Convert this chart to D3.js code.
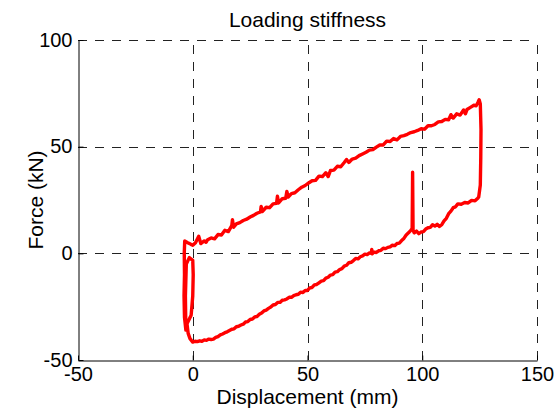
<!DOCTYPE html>
<html>
<head>
<meta charset="utf-8">
<script src="https://cdn.jsdelivr.net/npm/d3@7/dist/d3.min.js"></script>
<style>
  html, body { margin: 0; padding: 0; background: #fff; }
  svg { display: block; }
  text { font-family: "Liberation Sans", Arial, Helvetica, sans-serif; fill: #000; }
</style>
</head>
<body>
<svg id="chart" width="557" height="418"></svg>
<script>
// Axis ticks
const xTicks = [-50, 0, 50, 100, 150];
const yTicks = [-50, 0, 50, 100];

// Force-displacement record, split into its segments [displacement mm, force kN]
// Left end: actuator reversal around -3 mm
const leftStart = [
  [-3.0, -36], [-3.6, -30], [-3.8, -20], [-3.6, -10], [-3.7, 0], [-3.5, 5.8],
  [-2.2, 5.0], [-0.8, 4.2]
];

// Loading branch (upper)
const upperBranch = [
  [0.0, 3.8], [1.2, 5.0], [2.6, 8.0], [3.5, 4.6], [5.0, 5.8], [5.8, 5.2], [6.5, 6.4], [8.0, 7.2],
  [9.5, 6.8], [11.0, 8.8], [12.5, 8.6], [14.0, 10.8], [15.5, 10.2], [17.0, 13.0],
  [17.3, 15.8], [17.8, 12.2], [19.0, 13.8], [20.5, 14.4], [22.0, 15.4], [23.5, 16.0],
  [25.0, 17.0], [26.5, 17.8], [28.0, 18.8], [29.5, 19.4], [29.8, 22.0], [30.3, 19.6],
  [32.0, 21.6], [33.5, 21.4], [35.0, 23.2], [36.5, 23.4], [36.9, 26.8], [37.4, 23.6],
  [39.0, 25.6], [40.5, 25.8], [41.0, 29.0], [41.6, 26.4], [43.0, 28.0], [44.5, 28.4],
  [46.0, 29.8], [47.5, 31.0], [49.0, 31.8], [50.5, 33.0], [52.0, 34.0], [53.5, 34.2],
  [55.0, 36.2], [56.5, 36.0], [58.0, 37.8], [59.0, 36.0], [60.0, 38.8], [61.5, 39.0],
  [63.0, 40.8], [64.5, 40.6], [66.0, 42.6], [67.0, 44.0], [68.0, 42.6], [69.5, 44.2],
  [71.0, 44.6], [72.5, 45.8], [74.0, 46.6], [75.5, 47.4], [77.0, 48.4], [78.5, 48.6],
  [80.0, 49.8], [81.5, 50.8], [83.0, 50.8], [84.5, 52.6], [86.0, 52.4], [87.5, 53.8],
  [89.0, 53.2], [90.5, 54.8], [92.0, 55.2], [93.5, 55.8], [95.0, 56.6], [96.5, 57.0],
  [98.0, 57.6], [99.5, 58.4], [101.0, 58.2], [102.5, 59.8], [104.0, 59.8], [105.5, 60.4],
  [107.0, 61.6], [108.5, 61.8], [110.0, 62.8], [111.5, 62.6], [112.5, 65.0], [113.5, 63.4],
  [115.0, 65.4], [116.5, 64.8], [118.0, 67.2], [118.8, 65.4], [119.5, 67.4], [121.0, 68.4],
  [122.5, 69.4], [123.5, 69.2], [124.3, 70.8], [124.8, 72.0]
];

// Right end: unloading at peak displacement
const rightDrop = [
  [125.3, 70.0], [125.6, 58.0], [125.5, 45.0], [125.3, 32.0], [124.6, 26.4]
];

// Return branch (lower), from peak back to zero
const lowerBranch = [
  [124.2, 25.8], [123.0, 24.6], [121.5, 24.8], [120.0, 23.6], [118.5, 23.8], [117.0, 23.0],
  [115.5, 23.2], [114.5, 21.8], [113.5, 21.4], [112.5, 19.8], [111.5, 18.6], [110.5, 16.4],
  [109.5, 15.2], [108.5, 13.4], [107.5, 12.6], [106.5, 13.6], [105.5, 12.8], [104.5, 13.4],
  [103.5, 12.2], [102.5, 12.0], [101.5, 11.4], [100.5, 10.2], [99.5, 10.0], [98.5, 9.2],
  [97.5, 10.4], [96.5, 9.6], [96.0, 10.8], [95.8, 38.0], [95.6, 11.6], [95.0, 10.8],
  [94.0, 9.6], [93.0, 8.6], [92.0, 7.0], [91.0, 6.0], [90.0, 4.8], [89.0, 4.6], [88.0, 3.6],
  [87.0, 3.8], [86.0, 3.0], [85.0, 2.8], [84.0, 2.2], [83.0, 2.4], [82.0, 1.4], [81.0, 1.2],
  [80.0, 0.4], [79.0, 0.6], [78.2, -0.2], [78.0, 1.8], [77.8, 0.0], [77.0, 0.2], [76.0, -0.6],
  [75.0, -0.4], [74.0, -1.2], [73.0, -1.6], [72.0, -2.6], [71.0, -2.4], [70.0, -3.4],
  [69.0, -4.2], [68.0, -4.4], [67.0, -5.6], [66.0, -6.0], [65.0, -7.2], [64.0, -7.6],
  [63.0, -8.6], [62.0, -8.8], [61.0, -10.0], [60.0, -10.2], [59.0, -11.2], [58.0, -11.6],
  [57.0, -12.8], [56.0, -13.0], [55.0, -13.8], [54.0, -14.6], [53.0, -14.8], [52.0, -16.0],
  [51.0, -16.2], [50.0, -17.4], [49.0, -17.4], [48.0, -18.4], [47.0, -18.2], [46.0, -19.2],
  [45.0, -19.4], [44.0, -19.8], [43.0, -20.6], [42.0, -20.6], [41.0, -21.4], [40.0, -21.8],
  [39.0, -22.0], [38.0, -23.0], [37.0, -23.0], [36.0, -24.0], [35.0, -24.2], [34.0, -25.2],
  [33.0, -25.8], [32.0, -26.6], [31.0, -27.0], [30.0, -28.0], [29.0, -28.6], [28.0, -29.6],
  [27.0, -29.8], [26.0, -30.8], [25.0, -31.0], [24.0, -32.0], [23.0, -32.2], [22.0, -33.2],
  [21.0, -33.6], [20.0, -34.2], [19.0, -34.4], [18.0, -35.4], [17.0, -35.6], [16.0, -36.2],
  [15.0, -36.8], [14.0, -37.2], [13.0, -37.8], [12.0, -38.2], [11.0, -39.0], [10.0, -39.4],
  [9.0, -40.2], [8.0, -40.4], [7.0, -40.2], [6.0, -40.8], [5.0, -40.6], [4.0, -41.2],
  [3.0, -41.0], [2.0, -41.4], [1.0, -41.2], [0.0, -41.6]
];

// Left end again: reversal loop closing the cycle
const leftClose = [
  [-1.2, -40.0], [-2.0, -37.5], [-2.5, -33.0], [-0.7, -29.0], [0.0, -20.0], [0.2, -10.0],
  [0.0, -3.3], [-1.5, -2.0], [-2.8, -5.0], [-3.2, -20.0], [-3.0, -36.0]
];

const svg = d3.select("#chart");
const margin = { left: 78, right: 20, top: 40, bottom: 58 };
const W = 557, H = 418;

const x = d3.scaleLinear().domain([-50, 150]).range([margin.left, W - margin.right]);
const y = d3.scaleLinear().domain([-50, 100]).range([H - margin.bottom, margin.top]);

const x0 = x.range()[0], x1 = x.range()[1];
const y0 = y.range()[0], y1 = y.range()[1];

// Dashed grid (skip lines lying on the left/bottom axes)
const grid = svg.append("g").attr("stroke", "#222").attr("stroke-width", 1)
  .attr("stroke-dasharray", "9,8").attr("fill", "none");
grid.selectAll("line.gx").data(xTicks.filter(d => d !== -50)).join("line")
  .attr("x1", d => Math.round(x(d)) + 0.5).attr("x2", d => Math.round(x(d)) + 0.5)
  .attr("y1", y0).attr("y2", y1);
grid.selectAll("line.gy").data(yTicks.filter(d => d !== -50)).join("line")
  .attr("y1", d => Math.round(y(d)) + 0.5).attr("y2", d => Math.round(y(d)) + 0.5)
  .attr("x1", x0).attr("x2", x1);

// Data curve
const line = d3.line().x(d => x(d[0])).y(d => y(d[1]));
const loop = [].concat(leftStart, upperBranch, rightDrop, lowerBranch, leftClose);
svg.append("path").datum(loop)
  .attr("d", line)
  .attr("fill", "none")
  .attr("stroke", "#ff0000")
  .attr("stroke-width", 3.4)
  .attr("stroke-linejoin", "round")
  .attr("stroke-linecap", "round");

// Axes (inward ticks, left and bottom only); plain hyphen for negatives
const fmt = d => String(d);
const xAxis = d3.axisBottom(x).tickValues(xTicks).tickFormat(fmt)
  .tickSizeInner(-5).tickSizeOuter(0).tickPadding(5);
const yAxis = d3.axisLeft(y).tickValues(yTicks).tickFormat(fmt)
  .tickSizeInner(-5).tickSizeOuter(0).tickPadding(6);

const gx = svg.append("g").attr("transform", `translate(0,${Math.round(y0) + 0.5})`).call(xAxis);
const gy = svg.append("g").attr("transform", `translate(${Math.round(x0) + 0.5},0)`).call(yAxis);

[gx, gy].forEach(g => {
  g.select(".domain").attr("stroke", "#000").attr("stroke-width", 1);
  g.selectAll(".tick line").attr("stroke", "#000");
  g.selectAll(".tick text").attr("font-size", 20)
    .attr("font-family", "'Liberation Sans', Arial, Helvetica, sans-serif").attr("fill", "#000");
});
gx.selectAll(".tick text").attr("dy", "0.75em");
gy.selectAll(".tick text").attr("dy", "0.3em");

// Title and axis labels
svg.append("text").attr("x", (x0 + x1) / 2).attr("y", 27)
  .attr("text-anchor", "middle").attr("font-size", 21).text("Loading stiffness");
svg.append("text").attr("x", (x0 + x1) / 2).attr("y", 404)
  .attr("text-anchor", "middle").attr("font-size", 21).text("Displacement (mm)");
svg.append("text")
  .attr("transform", `translate(43,${(y0 + y1) / 2}) rotate(-90)`)
  .attr("text-anchor", "middle").attr("font-size", 21).text("Force (kN)");
</script>
</body>
</html>
